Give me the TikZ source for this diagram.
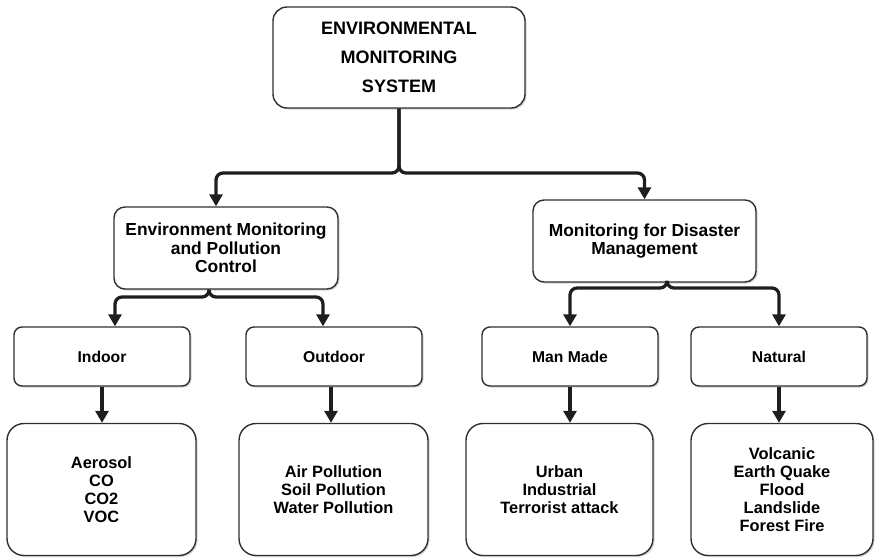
\documentclass[tikz,border=0pt]{standalone}
\usepackage{fontspec}
\setmainfont{Liberation Sans}
\usetikzlibrary{arrows.meta,shadows,calc}
\definecolor{edge}{HTML}{303030}
\definecolor{ink}{HTML}{1E1E1E}
\tikzset{
  box/.style={draw=edge, line width=1.4pt, fill=white, align=center, inner sep=0pt,
    drop shadow={opacity=0.35, shadow xshift=1.5pt, shadow yshift=-1.5pt}},
  rootbox/.style={box, rounded corners=14pt, font=\bfseries\fontsize{18}{29}\selectfont},
  groupbox/.style={box, rounded corners=11pt, font=\bfseries\fontsize{17.4}{18.5}\selectfont},
  kindbox/.style={box, rounded corners=8pt, minimum width=176pt, minimum height=59pt,
    font=\bfseries\fontsize{15.7}{18}\selectfont},
  listbox/.style={box, rounded corners=17pt, minimum height=132pt,
    font=\bfseries\fontsize{16.4}{18}\selectfont},
  conn/.style={draw=ink, line width=3.3pt, rounded corners=7pt,
    -{Triangle[width=13pt,length=12pt]}}
}
\begin{document}
\begin{tikzpicture}[x=1pt,y=-1pt]
\useasboundingbox (0,0) rectangle (875,558);

% root
\node[rootbox, minimum width=252pt, minimum height=101pt] (root) at (399,57.5)
  {ENVIRONMENTAL\\MONITORING\\SYSTEM};

% first level
\node[groupbox, minimum width=224pt, minimum height=82pt] (env) at (226,248)
  {Environment Monitoring\\and Pollution\\Control};
\node[groupbox, minimum width=223pt, minimum height=82pt] (dis) at (644.5,241)
  {Monitoring for Disaster\\Management};

% second level
\node[kindbox] (indoor)  at (102,356.5) {Indoor};
\node[kindbox] (outdoor) at (334,356.5) {Outdoor};
\node[kindbox] (manmade) at (570,356.5) {Man Made};
\node[kindbox] (natural) at (779,356.5) {Natural};

% leaves
\node[listbox, minimum width=189pt] (aerosol) at (101.5,489.5) {Aerosol\\CO\\CO2\\VOC};
\node[listbox, minimum width=189pt] (pollution) at (333.5,489.5) {Air Pollution\\Soil Pollution\\Water Pollution};
\node[listbox, minimum width=187pt] (urban) at (559.5,489.5) {Urban\\Industrial\\Terrorist attack};
\node[listbox, minimum width=182pt] (volcanic) at (782,489.5) {Volcanic\\Earth Quake\\Flood\\Landslide\\Forest Fire};

% branch points
\coordinate (j1) at (399,173);
\coordinate (j2) at (209,297);
\coordinate (j3) at (667,288);

% root to first level
\draw[conn] (root.south) -- (root.south |- j1) -| ($(env.north)+(-10,0)$);
\draw[conn] (root.south) -- (root.south |- j1) -| (dis.north);

% first level to second level
\draw[conn] (j2 |- env.south) -- (j2) -| ($(indoor.north)+(13,0)$);
\draw[conn] (j2 |- env.south) -- (j2) -| ($(outdoor.north)+(-11,0)$);
\draw[conn] (j3 |- dis.south) -- (j3) -| (manmade.north);
\draw[conn] (j3 |- dis.south) -- (j3) -| (natural.north);

% second level to leaves
\draw[conn] (indoor.south) -- (indoor.south |- aerosol.north);
\draw[conn] ($(outdoor.south)+(-3,0)$) -- ($(outdoor.south |- pollution.north)+(-3,0)$);
\draw[conn] (manmade.south) -- (manmade.south |- urban.north);
\draw[conn] (natural.south) -- (natural.south |- volcanic.north);
\end{tikzpicture}
\end{document}
